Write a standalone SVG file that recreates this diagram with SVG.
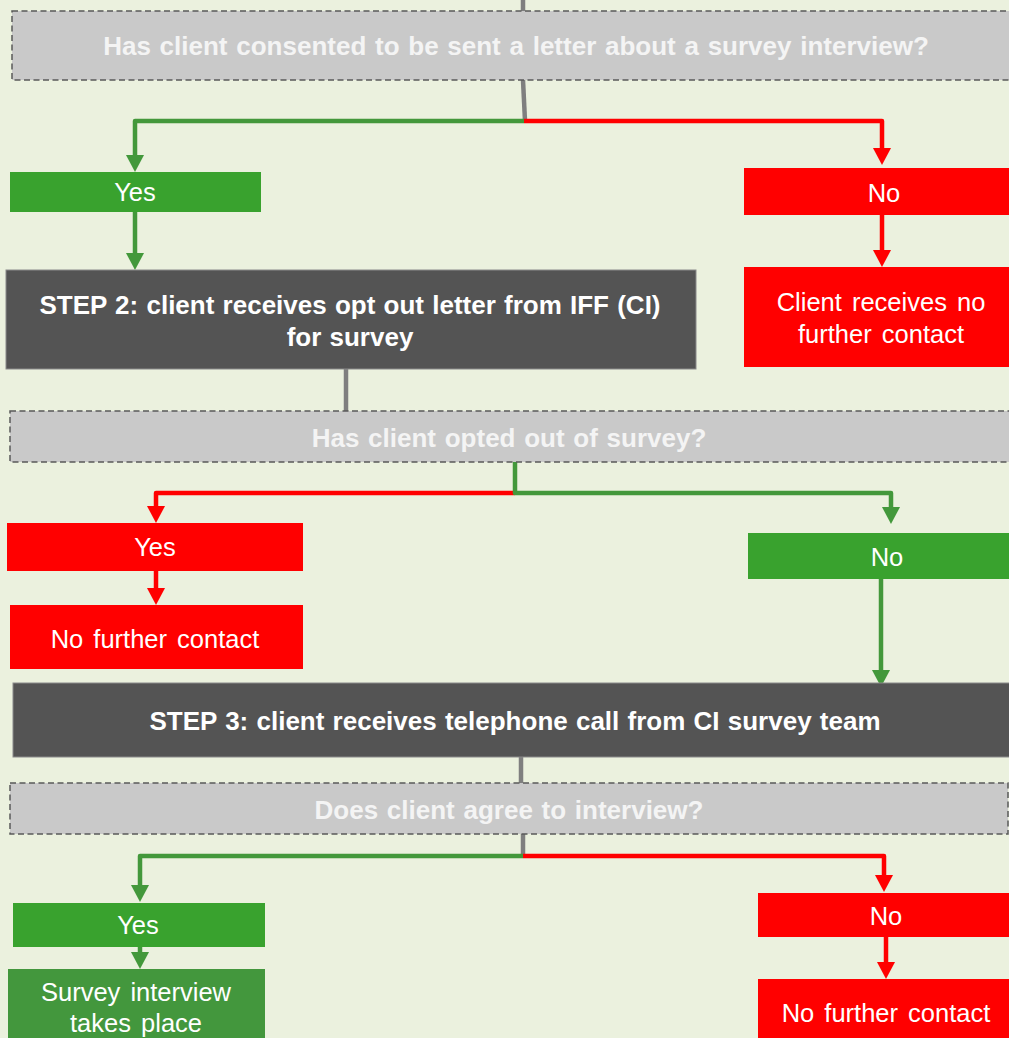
<svg xmlns="http://www.w3.org/2000/svg" width="1009" height="1038" viewBox="0 0 1009 1038">
<defs>
<style>
.q{fill:#C9C9C9;stroke:#595959;stroke-width:1.5;stroke-dasharray:6 3.5}
.qt{font-family:"Liberation Sans",Arial,sans-serif;font-weight:bold;font-size:26px;fill:#F4F4F4;text-anchor:middle;word-spacing:1.5px}
.step{fill:#545454;stroke:#8A8A8A;stroke-width:1}
.st{font-family:"Liberation Sans",Arial,sans-serif;font-weight:bold;font-size:26px;fill:#FFFFFF;text-anchor:middle;word-spacing:1px}
.g{fill:#39A22E}
.gd{fill:#43973D}
.r{fill:#FF0000}
.t{font-family:"Liberation Sans",Arial,sans-serif;font-size:25.5px;fill:#FFFFFF;text-anchor:middle;word-spacing:3px}
.cg{fill:none;stroke:#43983B;stroke-width:4.5;stroke-linejoin:round;marker-end:url(#ag)}
.cr{fill:none;stroke:#FF0000;stroke-width:4.5;stroke-linejoin:round;marker-end:url(#ar)}
.cgr{fill:none;stroke:#7F7F7F;stroke-width:4.5}
</style>
<marker id="ag" viewBox="0 0 17 18" refX="9" refY="9" markerWidth="17" markerHeight="18" markerUnits="userSpaceOnUse" orient="auto">
<path d="M0,0 L17,9 L0,18 z" fill="#43983B"/>
</marker>
<marker id="ar" viewBox="0 0 17 18" refX="9" refY="9" markerWidth="17" markerHeight="18" markerUnits="userSpaceOnUse" orient="auto">
<path d="M0,0 L17,9 L0,18 z" fill="#FF0000"/>
</marker>
</defs>
<rect x="0" y="0" width="1009" height="1038" fill="#EBF1DE"/>
<g id="connectors">
<path class="cgr" d="M523,0 V11"/>
<path class="cgr" d="M523,80 L525,121"/>
<path class="cr" d="M524,121 H882 V157"/>
<path class="cg" d="M524,121 H135 V164"/>
<path class="cg" d="M135,211 V262"/>
<path class="cr" d="M882,215 V259"/>
<path class="cgr" d="M346,369 V411"/>
<path class="cr" d="M515,493 H156 V515"/>
<path class="cg" d="M515,462 V493 H891 V516"/>
<path class="cr" d="M156,571 V597"/>
<path class="cg" d="M881,579 V679"/>
<path class="cgr" d="M521,757 V783"/>
<path class="cgr" d="M523,834 V856"/>
<path class="cr" d="M523,856 H884 V884"/>
<path class="cg" d="M523,856 H140 V894"/>
<path class="cg" d="M140,947 V961"/>
<path class="cr" d="M886,937 V971"/>
</g>
<g id="q1"><rect class="q" x="12" y="11" width="1010" height="69"/><text class="qt" x="516" y="55">Has client consented to be sent a letter about a survey interview?</text></g>
<g id="yes1"><rect class="g" x="10" y="172" width="251" height="40"/><text class="t" x="135" y="201">Yes</text></g>
<g id="no1"><rect class="r" x="744" y="168" width="279" height="47"/><text class="t" x="884" y="202">No</text></g>
<g id="step2"><rect class="step" x="6" y="270" width="690" height="99"/><text class="st" x="350" y="314">STEP 2: client receives opt out letter from IFF (CI)</text><text class="st" x="350" y="346">for survey</text></g>
<g id="noContact1"><rect class="r" x="744" y="267" width="274" height="100"/><text class="t" x="881" y="311">Client receives no</text><text class="t" x="881" y="343">further contact</text></g>
<g id="q2"><rect class="q" x="10" y="411" width="1000" height="51"/><text class="qt" x="509" y="447">Has client opted out of survey?</text></g>
<g id="yes2"><rect class="r" x="7" y="523" width="296" height="48"/><text class="t" x="155" y="556">Yes</text></g>
<g id="noContact2"><rect class="r" x="10" y="605" width="293" height="64"/><text class="t" x="155" y="648">No further contact</text></g>
<g id="no2"><rect class="g" x="748" y="533" width="278" height="46"/><text class="t" x="887" y="566">No</text></g>
<g id="step3"><rect class="step" x="13" y="683" width="1004" height="74"/><text class="st" x="515" y="730">STEP 3: client receives telephone call from CI survey team</text></g>
<g id="q3"><rect class="q" x="10" y="783" width="998" height="51"/><text class="qt" x="509" y="819">Does client agree to interview?</text></g>
<g id="yes3"><rect class="g" x="13" y="903" width="252" height="44"/><text class="t" x="138" y="934">Yes</text></g>
<g id="survey"><rect class="gd" x="8" y="969" width="257" height="80"/><text class="t" x="136" y="1001">Survey interview</text><text class="t" x="136" y="1032">takes place</text></g>
<g id="no3"><rect class="r" x="758" y="893" width="256" height="44"/><text class="t" x="886" y="925">No</text></g>
<g id="noContact3"><rect class="r" x="758" y="979" width="256" height="70"/><text class="t" x="886" y="1022">No further contact</text></g>
</svg>
